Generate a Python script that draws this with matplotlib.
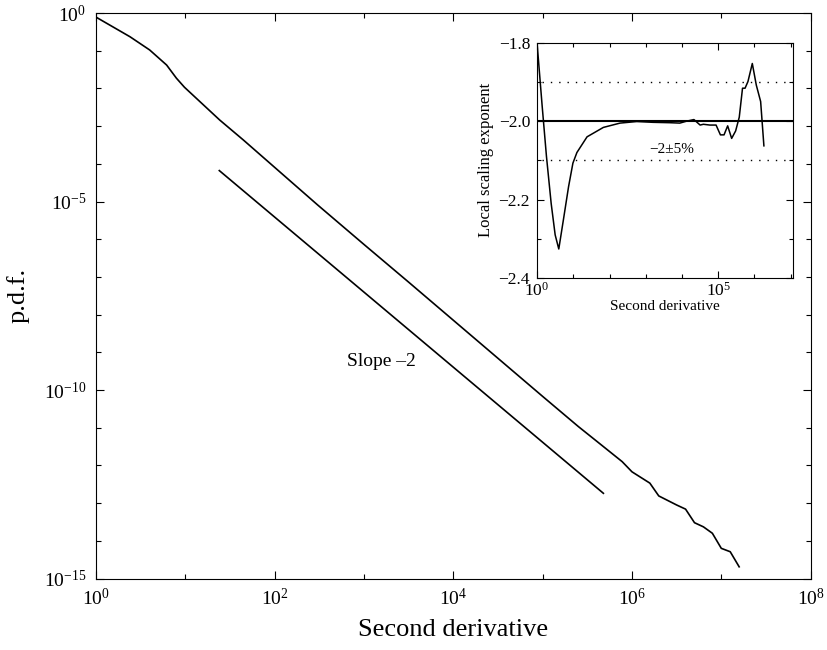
import matplotlib
matplotlib.use("Agg")
import matplotlib.pyplot as plt
import numpy as np
from matplotlib.ticker import FixedLocator, NullFormatter, LogFormatterMathtext

plt.rcParams['font.family'] = ['Liberation Serif', 'DejaVu Serif']
plt.rcParams['mathtext.fontset'] = 'stix'
plt.rcParams['xtick.direction'] = 'in'
plt.rcParams['ytick.direction'] = 'in'

# main p.d.f. curve, read as log10 values
pdf_logx = [0.0, 0.38, 0.60, 0.79, 0.90, 0.99, 1.385, 1.65, 2.48, 3.0, 3.5, 4.0, 4.5,
            5.0, 5.40, 5.59, 5.89, 6.0, 6.2, 6.30, 6.50, 6.60, 6.70, 6.80, 6.90,
            7.00, 7.10, 7.20]
pdf_logy = [-0.11, -0.63, -0.98, -1.38, -1.73, -1.97, -2.84, -3.37, -5.09, -6.14, -7.14,
            -8.15, -9.16, -10.17, -10.97, -11.33, -11.9, -12.17, -12.47, -12.81,
            -13.05, -13.16, -13.52, -13.63, -13.80, -14.2, -14.29, -14.69]

# reference slope -2 line
slope_logx = [1.38, 5.68]
slope_logy = [-4.18, -12.74]

# inset: local scaling exponent
loc_logx = [0.0, 0.14, 0.26, 0.39, 0.50, 0.60, 0.73, 0.87, 0.99, 1.10, 1.38, 1.83,
            2.29, 2.75, 3.20, 3.67, 3.94, 4.13, 4.33, 4.50, 4.59, 4.77, 4.94, 5.06,
            5.16, 5.26, 5.37, 5.48, 5.58, 5.67, 5.74, 5.82, 5.94, 6.05, 6.17, 6.26]
loc_exp = [-1.80, -1.96, -2.09, -2.21, -2.29, -2.326, -2.25, -2.167, -2.107, -2.08,
           -2.04, -2.016, -2.005, -2.001, -2.003, -2.004, -2.005, -2.0, -1.996,
           -2.01, -2.008, -2.01, -2.01, -2.035, -2.035, -2.012, -2.044, -2.025,
           -1.99, -1.916, -1.916, -1.899, -1.853, -1.908, -1.95, -2.063]

fig = plt.figure(figsize=(8.28, 6.5), dpi=100)
ax = fig.add_axes([0.116, 0.11, 0.863, 0.87])
ax.plot(10 ** np.array(pdf_logx), 10 ** np.array(pdf_logy), color='black', lw=1.2)
ax.plot(10 ** np.array(slope_logx), 10 ** np.array(slope_logy), color='black', lw=1.2)
ax.set_xscale('log')
ax.set_yscale('log')
ax.set_xlim(1, 1e8)
ax.set_ylim(1e-15, 1)
ax.xaxis.set_major_locator(FixedLocator([1, 1e2, 1e4, 1e6, 1e8]))
ax.xaxis.set_minor_locator(FixedLocator([1e1, 1e3, 1e5, 1e7]))
ax.yaxis.set_major_locator(FixedLocator([1e-15, 1e-10, 1e-5, 1]))
ax.yaxis.set_minor_locator(FixedLocator([10.0 ** k for k in range(-14, 0) if k % 5]))
ax.xaxis.set_major_formatter(LogFormatterMathtext())
ax.yaxis.set_major_formatter(LogFormatterMathtext())
ax.xaxis.set_minor_formatter(NullFormatter())
ax.yaxis.set_minor_formatter(NullFormatter())
ax.tick_params(which='both', top=True, right=True, labelsize=14, width=0.8)
ax.tick_params(which='major', length=6, pad=7)
ax.tick_params(which='minor', length=3.5)
ax.set_xlabel('Second derivative', fontsize=19, labelpad=7)
ax.set_ylabel('p.d.f.', fontsize=19, labelpad=10)
ax.text(10 ** 3.19, 10 ** -9.25, 'Slope –2', fontsize=14, ha='center', va='center')

# inset
ins = fig.add_axes([0.6486, 0.5723, 0.309, 0.362])
ins.plot(10 ** np.array(loc_logx), loc_exp, color='black', lw=1.1)
ins.axhline(-2.0, color='black', lw=1.5)
xmax = 10 ** 7.06
ins.plot([10 ** 0.14, xmax], [-1.9, -1.9], color='black', lw=1.0, ls=(0, (1, 5)))
ins.plot([10 ** 0.14, xmax], [-2.1, -2.1], color='black', lw=1.0, ls=(0, (1, 5)))
ins.set_xscale('log')
ins.set_xlim(1, xmax)
ins.set_ylim(-2.4, -1.8)
ins.xaxis.set_major_locator(FixedLocator([1, 1e5]))
ins.xaxis.set_minor_locator(FixedLocator([10.0 ** k for k in [1, 2, 3, 4, 6, 7]]))
ins.xaxis.set_major_formatter(LogFormatterMathtext())
ins.xaxis.set_minor_formatter(NullFormatter())
ins.yaxis.set_major_locator(FixedLocator([-2.4, -2.2, -2.0, -1.8]))
ins.yaxis.set_minor_locator(FixedLocator([-2.3, -2.1, -1.9]))
ins.set_yticklabels(['−2.4', '−2.2', '−2.0', '−1.8'])
ins.tick_params(which='both', top=True, right=True, labelsize=12.5, width=0.8)
ins.tick_params(which='major', length=5)
ins.tick_params(axis='x', which='major', pad=3)
ins.tick_params(axis='y', which='major', pad=5)
ins.tick_params(which='minor', length=3)
ins.set_xlabel('Second derivative', fontsize=11, labelpad=0)
ins.set_ylabel('Local scaling exponent', fontsize=12, labelpad=3)
ins.text(10 ** 3.72, -2.073, '−2±5%', fontsize=11, ha='center', va='center')

fig.savefig('out.png', dpi=100)
